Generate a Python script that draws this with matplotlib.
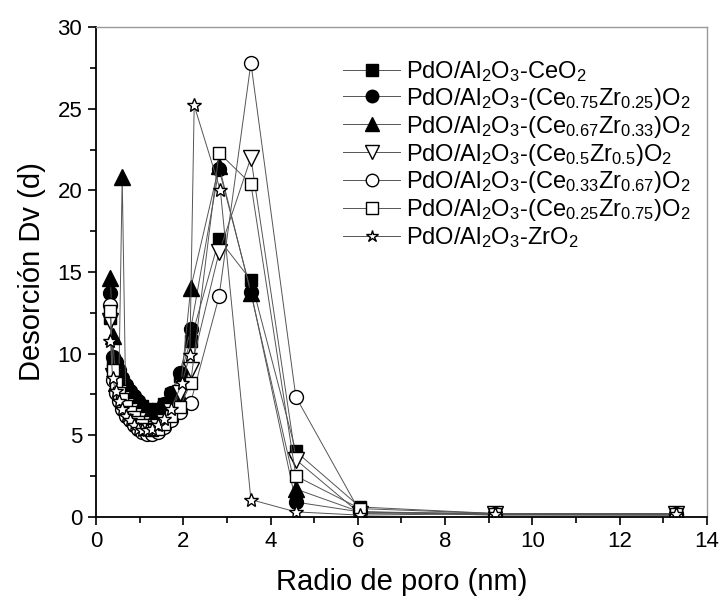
import matplotlib
matplotlib.use("Agg")
import matplotlib.pyplot as plt
from matplotlib.ticker import MultipleLocator

plt.rcParams['font.family'] = ['Liberation Sans', 'DejaVu Sans']
plt.rcParams['mathtext.fontset'] = 'custom'
plt.rcParams['mathtext.rm'] = 'Liberation Sans'
plt.rcParams['mathtext.it'] = 'Liberation Sans'
plt.rcParams['mathtext.bf'] = 'Liberation Sans'

# Data
x_common = [0.33, 0.38, 0.45, 0.52, 0.60, 0.68, 0.77, 0.86, 0.96, 1.06, 1.17, 1.29,
            1.42, 1.56, 1.72, 1.92, 2.17, 2.82, 3.55, 4.58, 6.05, 9.15, 13.3]
x_star = [0.33, 0.38, 0.45, 0.52, 0.60, 0.68, 0.77, 0.86, 0.96, 1.06, 1.17, 1.29,
          1.42, 1.56, 1.72, 1.97, 2.15, 2.25, 2.85, 3.55, 4.58, 6.05, 9.15, 13.3]

y_ceo2 = [12.2, 9.6, 8.9, 8.5, 8.1, 7.8, 7.5, 7.2, 7.0, 6.8, 6.6, 6.5,
          6.6, 6.9, 7.5, 8.6, 10.8, 17.0, 14.5, 4.0, 0.6, 0.2, 0.15]
y_ce075 = [13.7, 9.8, 9.5, 9.0, 8.5, 8.1, 7.7, 7.4, 7.1, 6.8, 6.5, 6.3,
           6.5, 6.9, 7.6, 8.8, 11.5, 21.3, 13.8, 0.9, 0.3, 0.15, 0.1]
y_ce067 = [14.6, 11.1, 8.2, 7.8, 20.8, 7.4, 7.1, 6.8, 6.6, 6.4, 6.2, 6.0,
           6.1, 6.3, 6.8, 7.4, 14.0, 21.5, 13.7, 1.7, 0.3, 0.1, 0.1]
y_ce05 = [12.0, 8.6, 8.0, 7.6, 7.2, 6.8, 6.5, 6.2, 5.9, 5.7, 5.5, 5.4,
          5.5, 5.8, 6.5, 7.6, 9.0, 16.2, 22.0, 3.5, 0.2, 0.15, 0.15]
y_ce033 = [13.0, 8.4, 7.6, 7.1, 6.6, 6.2, 5.9, 5.6, 5.4, 5.2, 5.1, 5.1,
           5.2, 5.5, 5.9, 6.4, 7.0, 13.5, 27.8, 7.35, 0.3, 0.2, 0.2]
y_ce025 = [12.6, 9.0, 8.2, 7.6, 7.2, 6.8, 6.4, 6.1, 5.8, 5.6, 5.4, 5.3,
           5.4, 5.7, 6.2, 6.7, 8.2, 22.3, 20.4, 2.5, 0.5, 0.2, 0.2]
y_zro2 = [10.8, 8.5, 7.7, 7.1, 6.6, 6.2, 5.9, 5.6, 5.4, 5.3, 5.3, 5.4,
          5.6, 6.0, 6.6, 8.2, 9.9, 25.2, 20.0, 1.05, 0.3, 0.1, 0.2, 0.2]

labels = [
    r'PdO/Al$_2$O$_3$-CeO$_2$',
    r'PdO/Al$_2$O$_3$-(Ce$_{0.75}$Zr$_{0.25}$)O$_2$',
    r'PdO/Al$_2$O$_3$-(Ce$_{0.67}$Zr$_{0.33}$)O$_2$',
    r'PdO/Al$_2$O$_3$-(Ce$_{0.5}$Zr$_{0.5}$)O$_2$',
    r'PdO/Al$_2$O$_3$-(Ce$_{0.33}$Zr$_{0.67}$)O$_2$',
    r'PdO/Al$_2$O$_3$-(Ce$_{0.25}$Zr$_{0.75}$)O$_2$',
    r'PdO/Al$_2$O$_3$-ZrO$_2$',
]

series = [
    (x_common, y_ceo2, 's', 'black', 9),
    (x_common, y_ce075, 'o', 'black', 10),
    (x_common, y_ce067, '^', 'black', 11),
    (x_common, y_ce05, 'v', 'white', 11),
    (x_common, y_ce033, 'o', 'white', 10),
    (x_common, y_ce025, 's', 'white', 9),
    (x_star, y_zro2, '*', 'white', 10),
]

fig = plt.figure(figsize=(7.22, 6.03), dpi=100)
ax = fig.add_axes([0.133, 0.143, 0.846, 0.812])

for (xs, ys, m, fc, ms), lab in zip(series, labels):
    ax.plot(xs, ys, color='#555555', lw=0.7, marker=m, markersize=ms,
            markerfacecolor=fc, markeredgecolor='black', markeredgewidth=1.0,
            label=lab)

ax.set_xlim(0, 14)
ax.set_ylim(0, 30)
ax.xaxis.set_major_locator(MultipleLocator(2))
ax.xaxis.set_minor_locator(MultipleLocator(1))
ax.yaxis.set_major_locator(MultipleLocator(5))
ax.yaxis.set_minor_locator(MultipleLocator(2.5))
ax.tick_params(which='both', direction='out', top=False, right=False,
               labelsize=16, width=1.2)
ax.tick_params(which='major', length=6, pad=4)
ax.tick_params(which='minor', length=4)
for s in ['left', 'bottom']:
    ax.spines[s].set_linewidth(1.3)
    ax.spines[s].set_color('black')
for s in ['top', 'right']:
    ax.spines[s].set_linewidth(1.0)
    ax.spines[s].set_color('#999999')

ax.set_xlabel('Radio de poro (nm)', fontsize=21, labelpad=12)
ax.set_ylabel('Desorción Dv (d)', fontsize=21, labelpad=8)

leg = ax.legend(loc='upper left', bbox_to_anchor=(0.405, 0.935), frameon=False,
                fontsize=17, handlelength=2.4, handletextpad=0.25,
                labelspacing=0.08, markerscale=0.9, borderaxespad=0, borderpad=0)

fig.savefig('out.png', dpi=100)
